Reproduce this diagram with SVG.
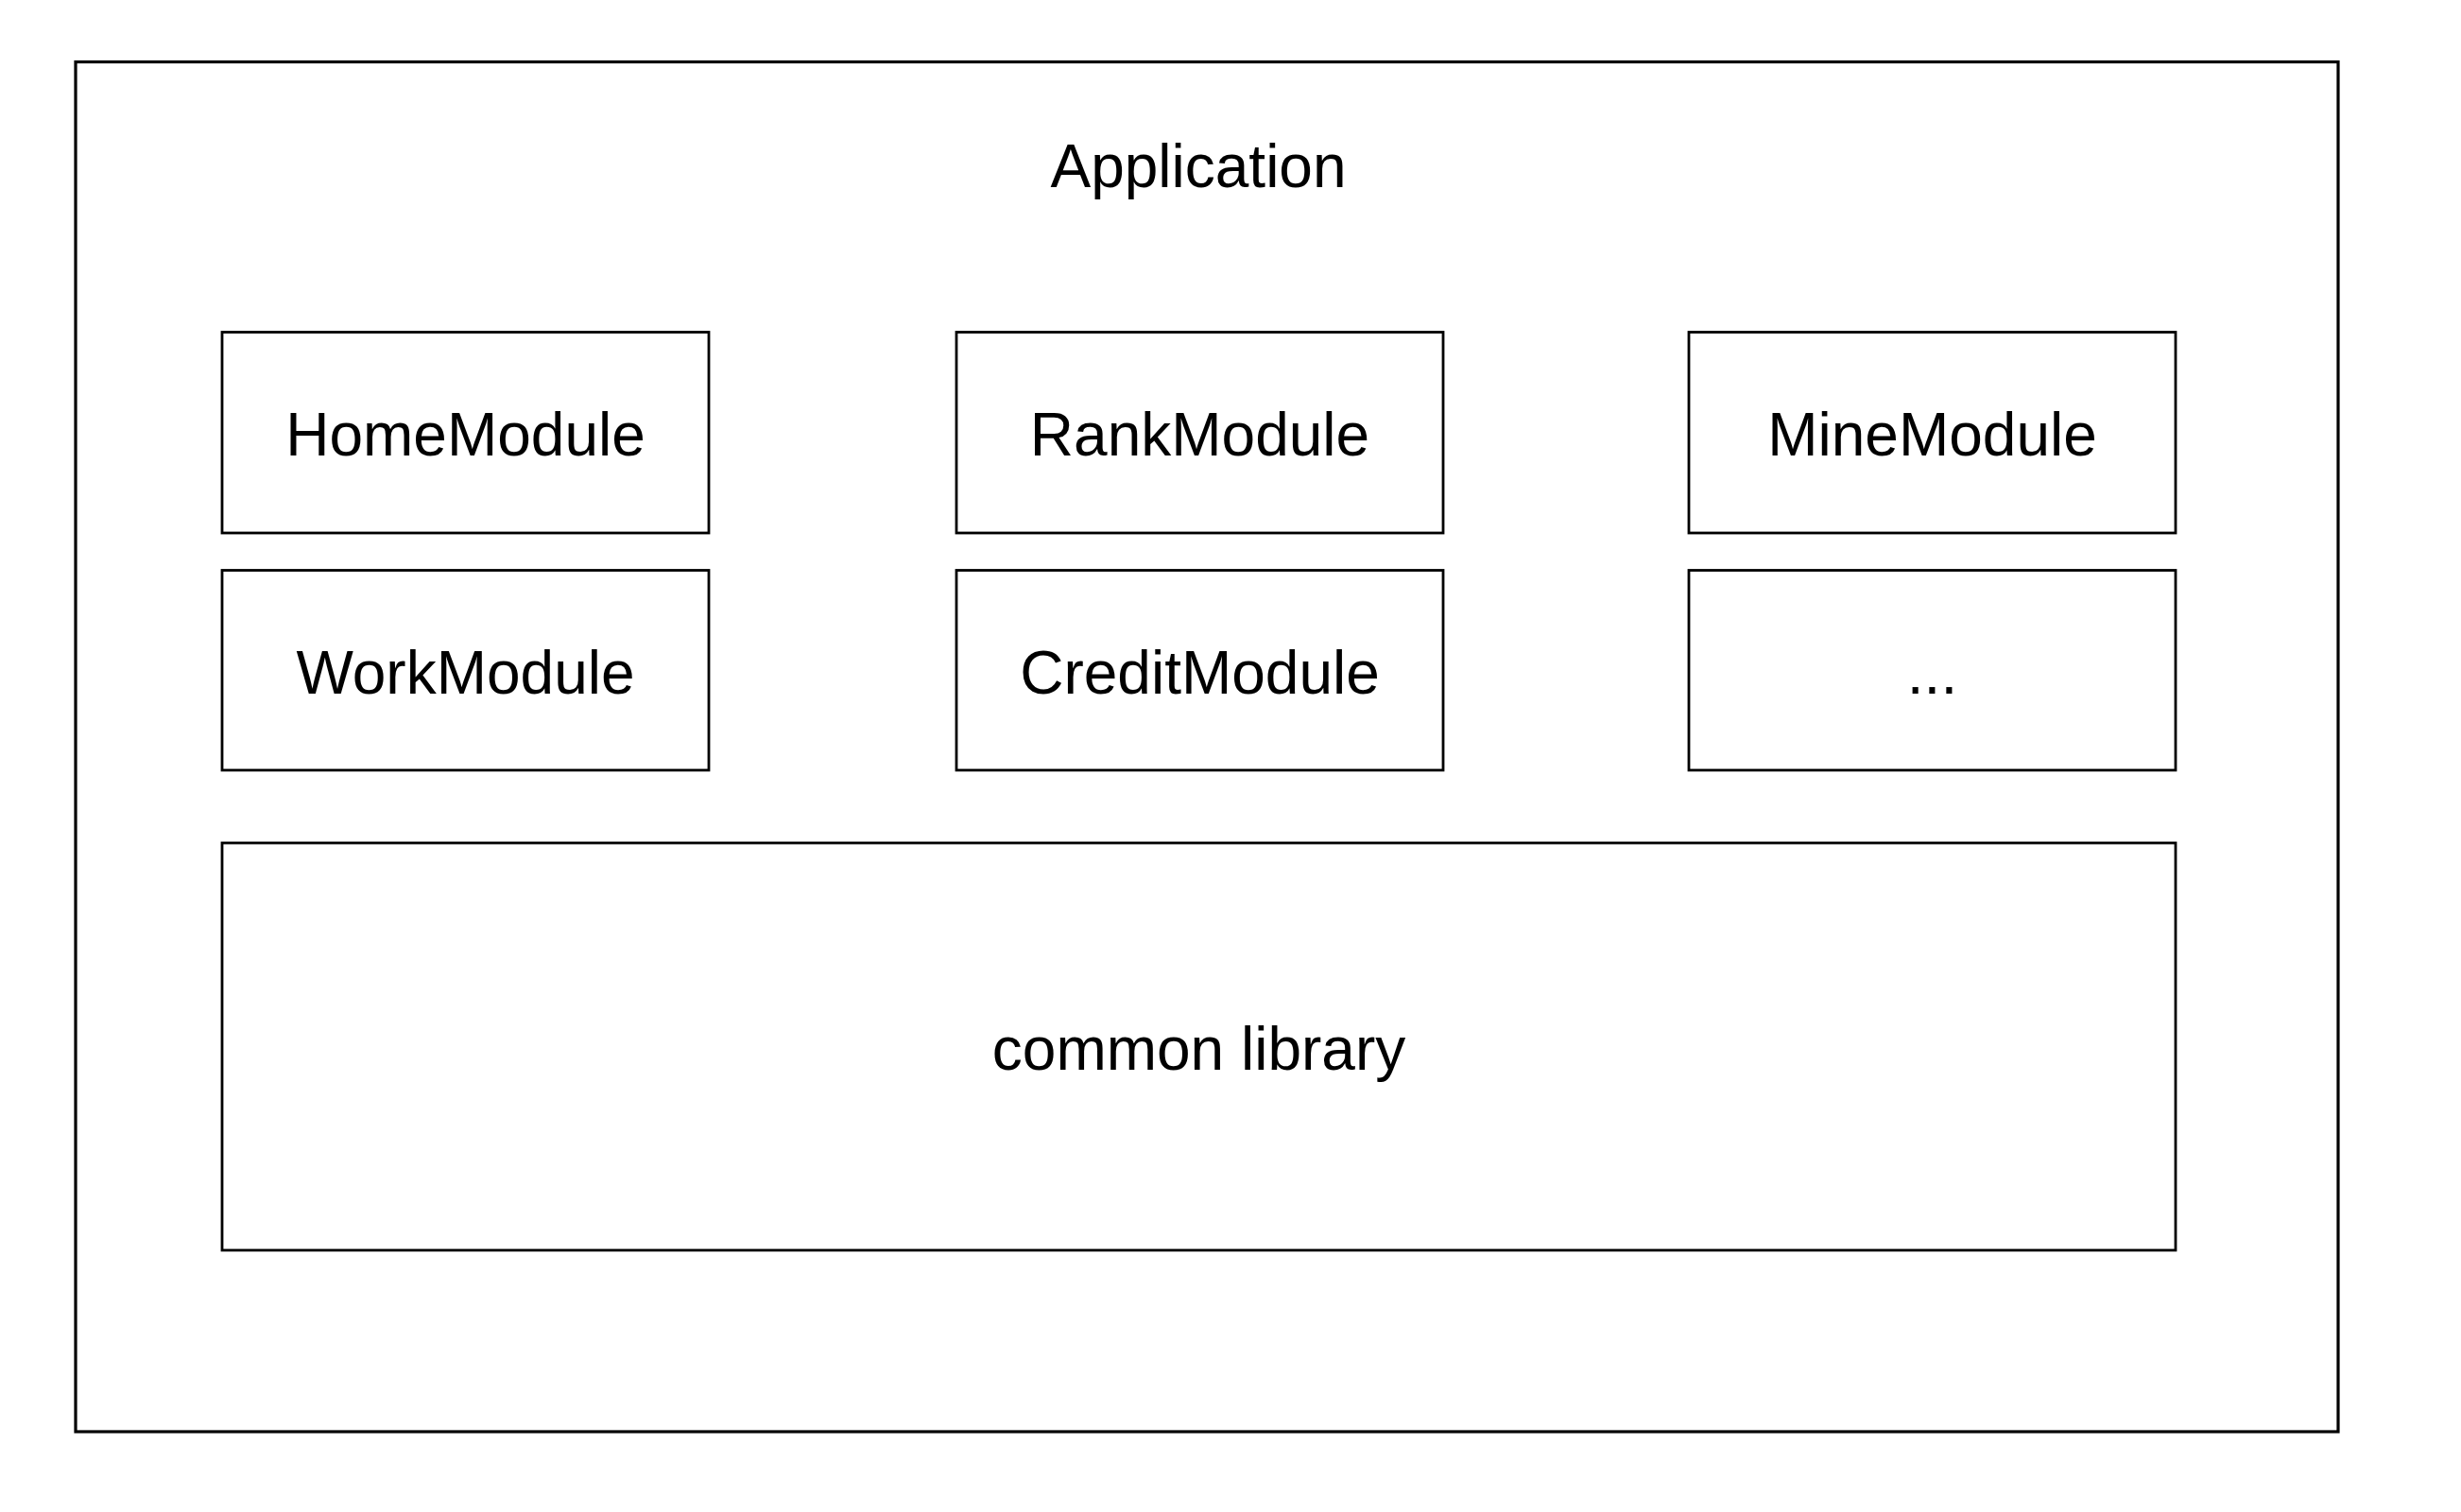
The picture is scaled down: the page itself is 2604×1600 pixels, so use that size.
<svg xmlns="http://www.w3.org/2000/svg" width="2604" height="1600" viewBox="0 0 2604 1600">
<style>
.box{fill:#ffffff;stroke:#000000;stroke-width:2.8}
.outer{fill:#ffffff;stroke:#000000;stroke-width:3.2}
.lbl{font-family:"Liberation Sans",Arial,Helvetica,sans-serif;font-size:64px;fill:#000000;text-anchor:middle}
</style>
<rect width="2604" height="1600" fill="#ffffff"/>
<g id="application">
<rect class="outer" x="80" y="65.5" width="2394" height="1449.5"/>
<text class="lbl" x="1268" y="198">Application</text>
</g>
<g id="home-module">
<rect class="box" x="235" y="351.5" width="515" height="212.5"/>
<text class="lbl" x="492.5" y="482">HomeModule</text>
</g>
<g id="rank-module">
<rect class="box" x="1012" y="351.5" width="515" height="212.5"/>
<text class="lbl" x="1269.5" y="482">RankModule</text>
</g>
<g id="mine-module">
<rect class="box" x="1787" y="351.5" width="515" height="212.5"/>
<text class="lbl" x="2044.5" y="482">MineModule</text>
</g>
<g id="work-module">
<rect class="box" x="235" y="603.5" width="515" height="211.5"/>
<text class="lbl" x="492.5" y="734">WorkModule</text>
</g>
<g id="credit-module">
<rect class="box" x="1012" y="603.5" width="515" height="211.5"/>
<text class="lbl" x="1269.5" y="734">CreditModule</text>
</g>
<g id="more-modules">
<rect class="box" x="1787" y="603.5" width="515" height="211.5"/>
<text class="lbl" x="2044.5" y="734">...</text>
</g>
<g id="common-library">
<rect class="box" x="235" y="892" width="2067" height="431"/>
<text class="lbl" x="1268.5" y="1132">common library</text>
</g>
<g id="connectors"></g>
</svg>
